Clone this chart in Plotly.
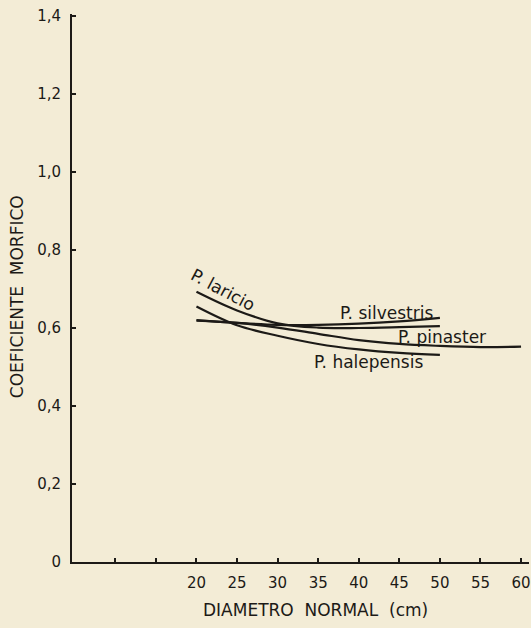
import plotly.graph_objects as go

# Diámetro normal (cm) y coeficiente mórfico de cada especie
diam_laricio = [20, 25, 30, 35, 40, 45, 50]
coef_laricio = [0.693, 0.645, 0.612, 0.601, 0.600, 0.602, 0.605]

diam_halepensis = [20, 25, 30, 35, 40, 45, 50]
coef_halepensis = [0.655, 0.607, 0.580, 0.559, 0.545, 0.536, 0.531]

diam_silvestris = [20, 25, 30, 35, 40, 45, 50]
coef_silvestris = [0.620, 0.613, 0.608, 0.608, 0.611, 0.617, 0.626]

diam_pinaster = [20, 25, 30, 35, 40, 45, 50, 55, 60]
coef_pinaster = [0.619, 0.613, 0.601, 0.585, 0.569, 0.559, 0.554, 0.551, 0.552]

x_ticks = [10, 15, 20, 25, 30, 35, 40, 45, 50, 55, 60]
x_ticktext = ["", "", "20", "25", "30", "35", "40", "45", "50", "55", "60"]
y_ticks = [0, 0.2, 0.4, 0.6, 0.8, 1.0, 1.2, 1.4]
y_ticktext = ["0", "0,2", "0,4", "0,6", "0,8", "1,0", "1,2", "1,4"]

# Etiquetas de especie: (texto, x, y, ángulo)
etiquetas = [
    ("P. laricio", 23.3, 0.697, 28),
    ("P. silvestris", 43.4, 0.638, 0),
    ("P. pinaster", 50.2, 0.577, 0),
    ("P. halepensis", 41.2, 0.512, 0),
]

INK = "#1c1a17"
PAPER = "#f3ecd6"
FONT = "DejaVu Sans"

W, H = 531, 628
ML, MR, MT, MB = 72, 0, 14, 66
pw, ph = W - ML - MR, H - MT - MB

fig = go.Figure()
for xs, ys in [(diam_silvestris, coef_silvestris), (diam_pinaster, coef_pinaster),
               (diam_laricio, coef_laricio), (diam_halepensis, coef_halepensis)]:
    fig.add_trace(go.Scatter(
        x=xs, y=ys, mode="lines",
        line=dict(color=INK, width=2.2, shape="spline", smoothing=1.0),
        showlegend=False, hoverinfo="skip",
    ))

for texto, x, y, ang in etiquetas:
    fig.add_annotation(x=x, y=y, xref="x", yref="y", text=texto, showarrow=False,
                       textangle=ang, font=dict(family=FONT, size=17, color=INK))

# Títulos de los ejes, colocados en coordenadas de papel
fig.add_annotation(xref="paper", yref="paper",
                   x=(317 - ML) / pw, y=(H - MB - 610) / ph,
                   xanchor="center", yanchor="middle",
                   text="DIAMETRO  NORMAL  (cm)", showarrow=False,
                   font=dict(family=FONT, size=17, color=INK))
fig.add_annotation(xref="paper", yref="paper",
                   x=(17 - ML) / pw, y=(H - MB - 297) / ph,
                   xanchor="center", yanchor="middle",
                   text="COEFICIENTE  MORFICO", showarrow=False, textangle=-90,
                   font=dict(family=FONT, size=17, color=INK))

fig.update_layout(
    width=W, height=H,
    margin=dict(l=ML, r=MR, t=MT, b=MB),
    paper_bgcolor=PAPER, plot_bgcolor=PAPER,
    font=dict(family=FONT, color=INK),
)
fig.update_xaxes(
    range=[4.66, 60.98], showgrid=False, zeroline=False,
    showline=True, linecolor=INK, linewidth=2,
    tickmode="array", tickvals=x_ticks, ticktext=x_ticktext,
    ticks="inside", ticklen=4, tickwidth=1.5, tickcolor=INK,
    tickfont=dict(family=FONT, size=15, color=INK), ticklabelstandoff=6,
    ticklabeloverflow="allow",
)
fig.update_yaxes(
    range=[0, 1.405], showgrid=False, zeroline=False,
    showline=True, linecolor=INK, linewidth=2,
    tickmode="array", tickvals=y_ticks, ticktext=y_ticktext,
    ticks="inside", ticklen=4, tickwidth=1.5, tickcolor=INK,
    tickfont=dict(family=FONT, size=15, color=INK), ticklabelstandoff=6,
)

fig.write_html("out.html")
